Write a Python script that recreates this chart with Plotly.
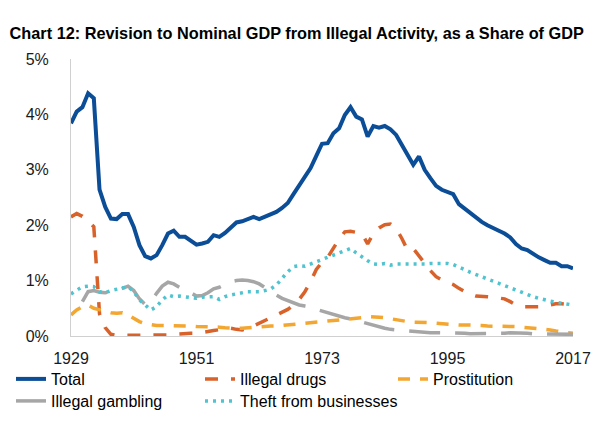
import plotly.graph_objects as go

# --- data (% of GDP) ---
years = list(range(1929, 2018))

total = [
    3.84, 4.05, 4.13, 4.38, 4.29, 2.64, 2.33, 2.12, 2.11, 2.20,
    2.20, 1.97, 1.64, 1.44, 1.40, 1.46, 1.64, 1.85, 1.90, 1.79,
    1.79, 1.72, 1.65, 1.67, 1.70, 1.82, 1.79, 1.86, 1.96, 2.05,
    2.07, 2.11, 2.15, 2.11, 2.15, 2.20, 2.24, 2.31, 2.40, 2.56,
    2.72, 2.86, 3.03, 3.25, 3.47, 3.48, 3.66, 3.75, 3.99, 4.13,
    3.96, 3.91, 3.60, 3.79, 3.76, 3.79, 3.73, 3.63, 3.45, 3.24,
    3.09, 3.24, 3.00, 2.85, 2.71, 2.64, 2.59, 2.56, 2.38, 2.30,
    2.20, 2.12, 2.06, 2.00, 1.94, 1.90, 1.85, 1.78, 1.66, 1.58,
    1.55, 1.48, 1.42, 1.37, 1.32, 1.32, 1.26, 1.26, 1.22,
]

illegal_drugs = [
    2.15, 2.21, 2.16, 2.08, 1.97, 0.40, 0.15, 0.03, 0.01, 0.01,
    0.01, 0.01, 0.01, 0.01, 0.01, 0.01, 0.02, 0.02, 0.03, 0.04,
    0.05, 0.05, 0.05, 0.06, 0.08, 0.10, 0.11, 0.12, 0.14, 0.12,
    0.11, 0.13, 0.18, 0.23, 0.28, 0.33, 0.38, 0.43, 0.48, 0.56,
    0.66, 0.80, 0.98, 1.20, 1.33, 1.42, 1.58, 1.75, 1.88, 1.89,
    1.87, 1.85, 1.66, 1.85, 1.95, 2.01, 2.02, 1.94, 1.76, 1.55,
    1.58, 1.45, 1.30, 1.18, 1.07, 1.01, 0.97, 0.93, 0.86, 0.80,
    0.75, 0.72, 0.72, 0.71, 0.70, 0.69, 0.67, 0.62, 0.56, 0.53,
    0.53, 0.53, 0.53, 0.53, 0.56, 0.58, 0.58, 0.57, 0.56,
]

prostitution = [
    0.38, 0.47, 0.53, 0.56, 0.50, 0.47, 0.44, 0.42, 0.41, 0.42,
    0.38, 0.32, 0.26, 0.22, 0.20, 0.19, 0.19, 0.19, 0.18, 0.18,
    0.18, 0.18, 0.17, 0.17, 0.17, 0.17, 0.16, 0.15, 0.14, 0.14,
    0.14, 0.15, 0.16, 0.17, 0.17, 0.18, 0.18, 0.19, 0.20, 0.21,
    0.22, 0.23, 0.24, 0.25, 0.26, 0.27, 0.28, 0.28, 0.29, 0.30,
    0.31, 0.33, 0.35, 0.35, 0.34, 0.33, 0.31, 0.29, 0.27, 0.26,
    0.25, 0.25, 0.24, 0.24, 0.23, 0.22, 0.21, 0.21, 0.20, 0.20,
    0.20, 0.19, 0.19, 0.18, 0.18, 0.18, 0.17, 0.17, 0.17, 0.16,
    0.15, 0.14, 0.14, 0.13, 0.11, 0.09, 0.07, 0.06, 0.05,
]

illegal_gambling = [
    None, None, 0.62, 0.80, 0.82, 0.79, 0.78, 0.80, 0.82, 0.86,
    0.90, 0.82, 0.67, 0.57, 0.62, 0.77, 0.90, 0.97, 0.94, 0.88,
    0.82, 0.78, 0.72, 0.73, 0.78, 0.85, 0.88, 0.93, 0.98, 1.00,
    1.01, 1.00, 0.98, 0.94, 0.87, 0.80, 0.74, 0.68, 0.64, 0.60,
    0.56, 0.54, 0.52, 0.48, 0.45, 0.42, 0.38, 0.35, 0.33, 0.31,
    0.28, 0.26, 0.23, 0.20, 0.17, 0.14, 0.12, 0.11, 0.10, 0.09,
    0.08, 0.07, 0.07, 0.06, 0.06, 0.06, 0.06, 0.05, 0.05, 0.05,
    0.04, 0.04, 0.04, 0.05, 0.05, 0.05, 0.05, 0.06, 0.06, 0.05,
    0.05, 0.04, 0.04, 0.04, 0.04, 0.03, 0.03, 0.03, 0.03,
]

theft = [
    0.76, 0.82, 0.89, 0.90, 0.89, 0.80, 0.78, 0.82, 0.84, 0.87,
    0.89, 0.80, 0.65, 0.56, 0.47, 0.53, 0.65, 0.74, 0.71, 0.72,
    0.71, 0.70, 0.68, 0.70, 0.70, 0.71, 0.66, 0.71, 0.74, 0.76,
    0.78, 0.80, 0.80, 0.80, 0.82, 0.85, 0.92, 1.04, 1.16, 1.25,
    1.27, 1.26, 1.30, 1.35, 1.39, 1.42, 1.46, 1.50, 1.55, 1.58,
    1.50, 1.42, 1.36, 1.30, 1.29, 1.31, 1.28, 1.30, 1.30, 1.29,
    1.30, 1.30, 1.30, 1.31, 1.31, 1.32, 1.31, 1.29, 1.25, 1.20,
    1.15, 1.11, 1.06, 1.02, 0.98, 0.95, 0.91, 0.87, 0.83, 0.79,
    0.75, 0.71, 0.68, 0.65, 0.63, 0.61, 0.59, 0.57, 0.56,
]

x_ticks = [1929, 1951, 1973, 1995, 2017]
y_ticks = [0, 1, 2, 3, 4, 5]
y_tick_labels = ["0%", "1%", "2%", "3%", "4%", "5%"]

FONT = "Liberation Sans, Arial, sans-serif"

# name, values, line style, legend id, legend position (px from left, px from top)
series = [
    ("Total", total, dict(color="#0B4D96", width=4), "legend", (11, 362)),
    ("Illegal drugs", illegal_drugs, dict(color="#D8622A", width=3.5, dash="13px,13px"), "legend2", (200, 362)),
    ("Prostitution", prostitution, dict(color="#F3A630", width=3.5, dash="12px,10px"), "legend3", (393, 362)),
    ("Illegal gambling", illegal_gambling, dict(color="#A6A6A6", width=3.5, dash="31px,15px"), "legend4", (11, 384)),
    ("Theft from businesses", theft, dict(color="#4FC3CF", width=3.5, dash="3px,5px"), "legend5", (200, 384)),
]

fig = go.Figure()
legends = {}
for name, values, line, leg, (lx, ly) in series:
    fig.add_trace(go.Scatter(x=years, y=values, name=name, mode="lines",
                             line=line, legend=leg))
    legends[leg] = dict(
        orientation="h",
        xref="container", yref="container",
        x=lx / 608, xanchor="left",
        y=1 - ly / 426, yanchor="top",
        itemwidth=30,
        font=dict(family=FONT, size=16, color="#000000"),
        bgcolor="rgba(0,0,0,0)",
    )

fig.update_layout(
    width=608,
    height=426,
    margin=dict(l=71, r=35, t=59, b=90, autoexpand=False),
    paper_bgcolor="white",
    plot_bgcolor="white",
    title=dict(
        text="<b>Chart 12: Revision to Nominal GDP from Illegal Activity, as a Share of GDP</b>",
        font=dict(family=FONT, size=16.3, color="#000000"),
        x=0.488, xanchor="center", xref="container",
        y=1 - 33 / 426, yanchor="middle", yref="container",
    ),
    xaxis=dict(
        range=[1929, 2017],
        tickvals=x_ticks,
        showgrid=False,
        zeroline=False,
        showline=True,
        linecolor="#D0D0D0",
        linewidth=1,
        ticks="",
        ticklabelstandoff=8,
        tickfont=dict(family=FONT, size=16, color="#1a1a1a"),
    ),
    yaxis=dict(
        range=[0, 5],
        tickvals=y_ticks,
        ticktext=y_tick_labels,
        showgrid=False,
        zeroline=False,
        showline=True,
        linecolor="#D0D0D0",
        linewidth=1,
        ticks="",
        ticklabelstandoff=18,
        tickfont=dict(family=FONT, size=16, color="#1a1a1a"),
    ),
    showlegend=True,
    **legends,
)

# drop the browser's default body margin so the figure sits at the page corner
fig.write_html("out.html", config={"displayModeBar": False},
               post_script="document.body.style.margin='0';")
